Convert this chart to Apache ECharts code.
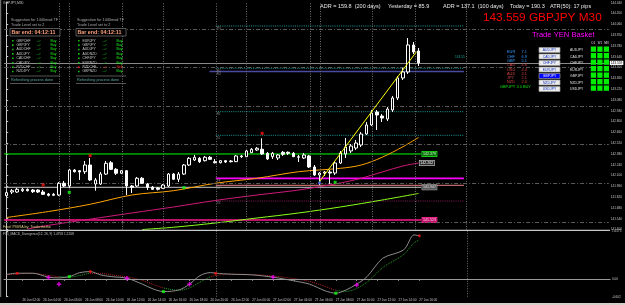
<!DOCTYPE html>
<html><head><meta charset="utf-8">
<script src="https://cdn.jsdelivr.net/npm/echarts@6/dist/echarts.min.js"></script>
<style>html,body{margin:0;padding:0;background:#000;overflow:hidden}#c{width:625px;height:305px}</style>
</head><body><div id="c"></div>
<script>
// ---------------- data ----------------
const barCount = 116;
// [open, close, low, high] per M30 bar
const candles = [
[141.838,141.877,141.821,141.890],[141.886,141.903,141.860,141.925],[141.886,141.921,141.873,141.938],
[141.903,141.921,141.886,141.938],[141.921,141.903,141.893,141.932],[141.912,141.890,141.873,141.925],
[141.912,141.886,141.873,141.921],[141.886,141.856,141.847,141.912],[141.860,141.843,141.828,141.873],
[141.843,141.856,141.834,141.873],[141.847,141.999,141.834,142.016],[141.999,141.964,141.951,142.029],
[141.964,142.171,141.938,142.184],[142.171,142.149,142.139,142.184],[142.162,142.145,142.042,142.171],
[142.149,142.236,142.119,142.288],[142.236,142.042,142.029,142.327],[141.990,142.042,141.903,142.068],
[141.990,142.119,141.977,142.145],[142.119,142.258,142.107,142.288],[142.266,142.180,142.171,142.288],
[142.180,142.129,142.107,142.197],[142.129,142.162,142.119,142.171],[142.162,141.964,141.847,142.171],
[141.964,141.947,141.873,141.977],[141.964,142.064,141.951,142.081],[142.064,141.999,141.990,142.081],
[141.990,141.947,141.912,142.003],[141.947,141.921,141.912,141.964],[141.938,141.921,141.906,141.951],
[141.934,141.977,141.925,141.990],[141.964,142.119,141.951,142.132],[142.119,142.051,142.042,142.132],
[142.051,142.119,142.016,142.145],[142.119,142.236,142.107,142.249],[142.236,142.323,142.223,142.340],
[142.301,142.336,142.288,142.366],[142.323,142.279,142.262,142.340],[142.292,142.336,142.282,142.353],
[142.336,142.310,142.301,142.353],[142.279,142.266,142.256,142.314],[142.266,142.292,142.256,142.301],
[142.292,142.275,142.262,142.301],[142.288,142.279,142.269,142.301],[142.279,142.353,142.275,142.366],
[142.344,142.353,142.327,142.366],[142.344,142.418,142.340,142.431],[142.396,142.440,142.392,142.456],
[142.431,142.453,142.418,142.469],[142.440,142.379,142.366,142.582],[142.388,142.314,142.301,142.405],
[142.344,142.388,142.314,142.405],[142.327,142.366,142.301,142.379],[142.401,142.375,142.353,142.418],
[142.401,142.388,142.366,142.411],[142.388,142.344,142.340,142.405],[142.336,142.344,142.275,142.366],
[142.327,142.366,142.314,142.392],[142.353,142.210,142.197,142.366],[142.210,142.107,142.094,142.236],
[142.107,142.132,141.977,142.145],[142.132,142.145,142.094,142.158],[142.145,142.132,141.990,142.171],
[142.132,142.262,142.107,142.275],[142.262,142.392,142.249,142.418],[142.379,142.469,142.327,142.586],
[142.418,142.482,142.392,142.508],[142.456,142.521,142.431,142.560],[142.495,142.638,142.469,142.664],
[142.638,142.755,142.625,142.794],[142.755,142.910,142.742,142.949],[142.923,142.884,142.690,142.949],
[142.871,142.845,142.794,142.897],[142.832,142.962,142.806,142.988],[142.949,143.105,142.923,143.131],
[143.105,143.364,143.079,143.390],[143.364,143.442,143.338,143.494],[143.442,143.792,143.416,143.882],
[143.792,143.701,143.675,143.831],[143.714,143.559,143.519,143.753]
];
const bidPrice = 143.559;

// moving averages sampled at bar indices
const maOrangeBars = [0,8,16,24,32,40,48,56,64,68,72,76,79];
const maOrangeVals = [141.556,141.633,141.727,141.847,141.903,141.999,142.064,142.149,142.193,142.236,142.336,142.473,142.593];
const maPinkBars = [4,8,16,24,32,40,48,56,64,68,72,76,79];
const maPinkVals = [141.407,141.454,141.534,141.614,141.692,141.776,141.847,141.912,142.003,142.064,142.145,142.223,142.262];
const maLimeBars = [26,32,40,48,56,64,72,79];
const maLimeVals = [141.400,141.429,141.484,141.549,141.614,141.692,141.782,141.867];

// horizontal levels
const greenLevel = 142.379, grayLevel = 141.947, pinkLevel = 141.523;
const pivotLevels = [144.038, 143.490, 142.927, 142.621];
const pivotNames = ['R3', 'R2', 'R1', 'M'];
const blueLevel = 143.448, magentaLevel = 142.064, salmonLevel = 141.973, darkMagentaLevel = 141.769;
const gridPrices = [141.5, 142.0, 142.5, 143.0, 143.5, 144.0];
const vGridBars = [10.1, 12.0, 22.1, 30.1, 46.0, 58.3, 60.1, 70.2, 78.3];
const vFullBars = [40.2, 88.1];

// trend line and arrows
const trendBars = [59.8, 78.6];
const trendPrices = [142.003, 143.705];
const redMarkBars = [7, 16, 49], redMarkPrices = [141.977, 142.357, 142.647];
const greenMarkBars = [12, 34, 63], greenMarkPrices = [141.882, 141.942, 142.012];
const blueMarkBars = [60], blueMarkPrices = [142.007];

// oscillator sub-window
const oscBars = [0,2,5,8,10,12,14,16,18,20,23,26,28,30,33,35,37,39,40,43,47,51,55,58,61,63,65,67,69,72,76,78,79];
const oscMain = [0.165,0.206,0.206,0.069,0.045,0.089,0.227,0.261,0.148,0.089,0.034,-0.172,-0.334,-0.427,-0.368,-0.172,0.124,0.227,0.206,0.172,0.148,0.069,-0.058,-0.172,-0.402,-0.482,-0.368,-0.172,0.089,0.722,1.008,1.524,1.49];
const oscSignal = [0.15,0.18,0.2,0.13,0.09,0.07,0.13,0.2,0.2,0.15,0.08,-0.04,-0.18,-0.3,-0.38,-0.3,-0.1,0.08,0.13,0.17,0.16,0.11,0.02,-0.08,-0.25,-0.38,-0.42,-0.32,-0.1,0.4,0.85,1.25,1.35];
const oscRedBars = [2,16,40,79], oscRedVals = [0.206,0.261,0.206,1.49];
const oscGreenBars = [12,30,63], oscGreenVals = [0.089,-0.427,-0.482];
const oscCrossBars = [8,10,23,35,51,67], oscCrossVals = [0.055,-0.172,0.034,-0.172,0.069,-0.196];

// time axis ticks
const timeTickBars = [0,3,7,11,15,19,23,27,31,35,39,43,47,51,55,59,63,67,71,75,79];
const timeTickLabels = ['26 Jun 2017','26 Jun 02:00','26 Jun 04:00','26 Jun 06:00','26 Jun 08:00','26 Jun 10:00',
 '26 Jun 12:00','26 Jun 14:00','26 Jun 16:00','26 Jun 18:00','26 Jun 20:00','26 Jun 22:00','27 Jun 00:00',
 '27 Jun 02:00','27 Jun 04:00','27 Jun 06:00','27 Jun 08:00','27 Jun 10:00','27 Jun 12:00','27 Jun 14:00','27 Jun 16:00'];
const subTicks = [-0.602, 0, 1.6575];
const subTickLabels = ['-0.602', '0.00', '1.6575'];

// panels
const panelAPairs = ['GBPCHF','GBPJPY','AUDCHF','AUDJPY','CADCHF','CADJPY','NZDCHF','NZDJPY'];
const panelASignals = ['Buy','Buy','Buy','Buy','Buy','Buy','Buy','Buy'];
const panelBPairs = ['EURJPY','GBPJPY','AUDJPY','AUDNZD','CHFJPY','EURNZD','NZDCHF','GBPNZD'];
const panelBSignals = ['Buy','Buy','Buy','Buy','Buy','Buy','Sell','Buy'];
const strengthCcy = ['EUR','CHF','GBP','CAD','USD','AUD','JPY','NZD'];
const strengthVal = ['7.1','6.9','5.1','4.6','4.4','3.1','2.1','2.0'];
const basketPairs = ['AUDJPY','CADJPY','CHFJPY','EURJPY','GBPJPY','NZDJPY','USDJPY'];
const tfNames = ['D1','W1','MN'];

// ---------------- chart ----------------
const FONT = '"Liberation Sans", Arial, sans-serif';
const cats = candles.map((_, i) => String(i)).concat(Array.from({length: barCount - candles.length}, (_, i) => String(candles.length + i)));
const zip = (a, b) => a.map((v, i) => [v, b[i]]);
const GL = 4.1, GW = 605.9;
const MAIN_LAST = candles.length - 0.5;

function level(price, x0, x1, ls, extra) {
  return Object.assign({ type: 'line', xAxisIndex: 1, yAxisIndex: 0, symbol: 'none', silent: true,
    data: [[x0, price], [x1, price]], lineStyle: ls, z: 3 }, extra || {});
}
function boxLabel(bg, fg, border) {
  return { endLabel: { show: true, formatter: p => p.value[1].toFixed(3), fontSize: 3.6, fontFamily: FONT,
    color: fg, backgroundColor: bg, borderColor: border || bg, borderWidth: 0.6, padding: [0.6, 0.8, 0.2, 0.8], distance: 1 } };
}

const series = [];
series.push({
  type: 'candlestick', xAxisIndex: 0, yAxisIndex: 0, data: candles, barWidth: 3, z: 5,
  itemStyle: { color: '#000000', color0: '#ffffff', borderColor: '#ffffff', borderColor0: '#ffffff', borderWidth: 1 },
  markLine: { silent: true, symbol: ['none', 'none'], animation: false,
    data: gridPrices.map(p => ({ yAxis: p, lineStyle: { color: '#5a5a5a', width: 1, type: [4, 2, 1, 2] }, label: { show: false } }))
      .concat([{ yAxis: bidPrice, lineStyle: { color: '#8a8a8a', width: 1, type: 'solid' },
        label: { show: true, position: 'end', formatter: bidPrice.toFixed(3), fontSize: 3.2, fontFamily: FONT, color: '#000',
          backgroundColor: '#ffffff', padding: [0.8, 1, 0.4, 1], distance: 1 } }]) }
});
// vertical grid / separators
series.push({ type: 'line', xAxisIndex: 1, yAxisIndex: 0, data: [], silent: true,
  markLine: { silent: true, symbol: ['none', 'none'], animation: false, label: { show: false },
    data: vGridBars.concat(vFullBars).map(b => ({ xAxis: b, lineStyle: { color: '#6e6e6e', width: 1, type: [1, 1.5] } })) } });
series.push({ type: 'line', xAxisIndex: 3, yAxisIndex: 1, data: [], silent: true,
  markLine: { silent: true, symbol: ['none', 'none'], animation: false, label: { show: false },
    data: vFullBars.map(b => ({ xAxis: b, lineStyle: { color: '#6e6e6e', width: 1, type: [1, 1.5] } }))
      .concat([{ yAxis: 0, lineStyle: { color: '#9a9a9a', width: 1.2, type: 'solid' } }]) } });

// levels
series.push(level(greenLevel, -0.5, 79.5, { color: '#00ff00', width: 1 }, boxLabel('#0b6e0b', '#c8ffc8', '#20ff20')));
series.push(level(grayLevel, -0.5, 79.5, { color: '#c8c8c8', width: 1 }, boxLabel('#5a5a5a', '#e0e0e0', '#9a9a9a')));
series.push(level(pinkLevel, -0.5, 79.5, { color: '#ff1a8c', width: 1.3 }, boxLabel('#c2106a', '#ffd0e8', '#ff3399')));
pivotLevels.forEach(p => series.push(level(p, 40.1, 87.7, { color: '#1a9a9a', width: 1, type: [1, 1.2] })));
series.push(level(blueLevel, 38.9, 87.7, { color: '#4a4aa0', width: 1.4 }));
series.push(level(magentaLevel, 40.1, 87.7, { color: '#ff00ff', width: 1.8 }));
series.push(level(salmonLevel, 40.1, 87.7, { color: '#f08080', width: 1 }));
series.push(level(darkMagentaLevel, 40.1, 87.7, { color: '#8b1a5a', width: 1, type: [1, 1.2] }));
// level names
series.push({ type: 'scatter', xAxisIndex: 1, yAxisIndex: 0, silent: true, symbolSize: 1, z: 6,
  itemStyle: { color: 'rgba(0,0,0,0)' },
  data: pivotLevels.concat([blueLevel, magentaLevel, salmonLevel, darkMagentaLevel]).map(p => [40.3, p]),
  label: { show: true, position: 'bottom', distance: 0.5, align: 'left', fontSize: 3, fontFamily: FONT, color: '#9a9a9a',
    formatter: p => ['R3','R2','R1','S1','R4','PP','S2','S3'][p.dataIndex] } });

// moving averages
series.push({ type: 'line', xAxisIndex: 1, yAxisIndex: 0, symbol: 'none', smooth: 0.35, silent: true, z: 4,
  data: zip(maOrangeBars, maOrangeVals), lineStyle: { color: '#ffa500', width: 1 } });
series.push(Object.assign({ type: 'line', xAxisIndex: 1, yAxisIndex: 0, symbol: 'none', smooth: 0.35, silent: true, z: 4,
  data: zip(maPinkBars, maPinkVals), lineStyle: { color: '#d0187a', width: 1 } }, boxLabel('#2a2a2a', '#ffffff', '#d0d0d0')));
series.push({ type: 'line', xAxisIndex: 1, yAxisIndex: 0, symbol: 'none', smooth: 0.35, silent: true, z: 4,
  data: zip(maLimeBars, maLimeVals), lineStyle: { color: '#8cff1a', width: 1 } });
// trend line
series.push({ type: 'line', xAxisIndex: 1, yAxisIndex: 0, symbol: 'none', silent: true, z: 7,
  data: zip(trendBars, trendPrices), lineStyle: { color: '#ffff00', width: 1 } });
// markers
series.push({ type: 'scatter', xAxisIndex: 1, yAxisIndex: 0, symbol: 'rect', symbolSize: 3, silent: true, z: 8,
  itemStyle: { color: '#ff1010' }, data: zip(redMarkBars, redMarkPrices) });
series.push({ type: 'scatter', xAxisIndex: 1, yAxisIndex: 0, symbol: 'rect', symbolSize: 3, silent: true, z: 8,
  itemStyle: { color: '#10ff10' }, data: zip(greenMarkBars, greenMarkPrices) });
series.push({ type: 'scatter', xAxisIndex: 1, yAxisIndex: 0, symbol: 'circle', symbolSize: 3, silent: true, z: 8,
  itemStyle: { color: '#3050ff' }, data: zip(blueMarkBars, blueMarkPrices) });

// oscillator
series.push({ type: 'line', xAxisIndex: 3, yAxisIndex: 1, symbol: 'none', smooth: 0.3, silent: true, z: 4,
  data: zip(oscBars, oscMain), lineStyle: { color: '#8c8c8c', width: 1 } });
const sigIdx = series.length;
series.push({ type: 'line', xAxisIndex: 3, yAxisIndex: 1, symbol: 'none', smooth: 0.3, silent: true, z: 3,
  data: zip(oscBars, oscSignal), lineStyle: { width: 1, type: [1, 1] } });
series.push({ type: 'scatter', xAxisIndex: 3, yAxisIndex: 1, symbol: 'circle', symbolSize: 3, silent: true, z: 8,
  itemStyle: { color: '#ff1010' }, data: zip(oscRedBars, oscRedVals) });
series.push({ type: 'scatter', xAxisIndex: 3, yAxisIndex: 1, symbol: 'rect', symbolSize: 3, silent: true, z: 8,
  itemStyle: { color: '#10ff10' }, data: zip(oscGreenBars, oscGreenVals) });
series.push({ type: 'scatter', xAxisIndex: 3, yAxisIndex: 1, symbol: 'path://M2,0h2v2h2v2h-2v2h-2v-2h-2v-2h2z', symbolSize: 4.5, silent: true, z: 8,
  itemStyle: { color: '#ff00ff' }, data: zip(oscCrossBars, oscCrossVals) });

// ---------------- graphic texts ----------------
const G = [];
function txt(x, y, text, fill, size, bold, align) {
  G.push({ type: 'text', x: x, y: y, z: 100, silent: true,
    style: { text: text, fill: fill, fontSize: size, fontFamily: FONT, fontWeight: bold ? 'bold' : 'normal', align: align || 'left', verticalAlign: 'middle' } });
}
function rect(x, y, w, h, fill, stroke) {
  G.push({ type: 'rect', z: 99, silent: true, shape: { x: x, y: y, width: w, height: h }, style: { fill: fill || 'none', stroke: stroke || null, lineWidth: 0.7 } });
}
function hline(x1, x2, y, stroke, w) {
  G.push({ type: 'line', z: 99, silent: true, shape: { x1: x1, y1: y, x2: x2, y2: y }, style: { stroke: stroke, lineWidth: w || 1 } });
}
// frame
G.push({ type: 'line', z: 99, silent: true, shape: { x1: 0.7, y1: 0, x2: 0.7, y2: 297 }, style: { stroke: '#8a8a8a', lineWidth: 1 } });
hline(0, 610, 230.3, '#c8c8c8', 1.3);
rect(0, 303, 625, 2, '#d4d0c8');
txt(3, 3.5, 'GBPJPY,M30', '#c0c0c0', 3.4);
txt(3, 226.5, 'Fred: PIGRA by: Tradertheme', '#e0d080', 3.6);
txt(3, 234.3, 'FX5_MACD_Divergence(12, 26, 9) 1.4758 1.2268', '#c0c0c0', 3.2);

// signal panels
function panel(x0, pairs, signals) {
  txt(x0 + 1, 19.5, 'Suggestion for 1440mod TF', '#a8a8a8', 3.8);
  txt(x0 + 1, 25, 'Trade Level set to 2', '#a8a8a8', 3.8);
  rect(x0, 28.5, 50, 7.5, '#000000', '#7a7a7a');
  txt(x0 + 1.5, 32.4, 'Bar end: 04:12:11', '#ffa07a', 5.3, true);
  pairs.forEach((p, k) => {
    const y = 40.7 + k * 4.4;
    const sell = signals[k] === 'Sell';
    rect(x0 + 2, y - 0.8, 1.6, 1.6, sell ? '#d01010' : '#10c010');
    txt(x0 + 6.5, y, p, '#c8c8c8', 3.4);
    txt(x0 + 26.5, y, '-->', sell ? '#d01010' : '#10b010', 3.4);
    txt(x0 + 40.5, y, signals[k], sell ? '#ff2020' : '#20ff20', 3.4);
  });
  hline(x0, x0 + 50, 76, '#7a7a7a', 0.7);
  txt(x0 + 1, 80.3, 'Refreshing process done', '#5fa8a8', 3.8);
  hline(x0, x0 + 50, 83.5, '#7a7a7a', 0.7);
}
panel(10, panelAPairs, panelASignals);
panel(76, panelBPairs, panelBSignals);

// header info
txt(320, 6.7, 'ADR = 159.8  (200 days)', '#e8e8e8', 5.5);
txt(388, 6.7, 'Yesterday = 85.9', '#e8e8e8', 5.5);
txt(443, 6.7, 'ADR = 137.1  (100 days)', '#e8e8e8', 5.5);
txt(510, 6.7, 'Today = 190.3', '#e8e8e8', 5.5);
txt(550, 6.7, 'ATR(50): 17 pips', '#e8e8e8', 5.5);
txt(483, 17.5, '143.559 GBPJPY M30', '#ff0000', 11.8);
txt(532, 35.3, 'Trade YEN Basket', '#ff00ff', 7.6);
txt(455, 57.5, '143.55', '#1aa0a0', 3.2);

// currency strength
strengthCcy.forEach((c, k) => {
  const y = 52.3 + k * 4.3;
  const col = k < 3 ? '#3399ff' : '#d04040';
  txt(507, y, c, col, 3.9);
  txt(521.5, y, strengthVal[k], col, 3.9);
});
txt(500, 87, 'GBPJPY 3.0 BUY', '#10e010', 3.9);

// basket buttons
basketPairs.forEach((p, k) => {
  const y = 47.5 + k * 6.5;
  const sel = p === 'GBPJPY';
  rect(539, y, 21, 5, sel ? '#0000ff' : '#ececec', '#9a9a9a');
  txt(549.5, y + 2.6, p, sel ? '#ffffff' : '#1030c0', 3.4, false, 'center');
  txt(570, y + 2.6, p, '#e0e0e0', 3.4);
  for (let c = 0; c < 3; c++) rect(590.8 + c * 6.5, y - 1, 5.2, 5.3, '#00ee00');
});
tfNames.forEach((t, c) => txt(593.4 + c * 6.5, 43.3, t, '#e0e0e0', 2.8, false, 'center'));

// ---------------- option ----------------
const tickSet = new Set(timeTickBars);
const option = {
  backgroundColor: '#000000',
  animation: false,
  grid: [{ left: GL, top: 2.7, width: GW, height: 226.8 }, { left: GL, top: 231, width: GW, height: 65.7 }],
  visualMap: [{ show: false, type: 'piecewise', seriesIndex: sigIdx, dimension: 0,
    pieces: [{ lt: 10, color: '#b02020' }, { gte: 10, lt: 16, color: '#20a020' }, { gte: 16, lt: 30, color: '#b02020' },
      { gte: 30, lt: 39, color: '#20a020' }, { gte: 39, lt: 63, color: '#b02020' }, { gte: 63, color: '#20a020' }] }],
  xAxis: [
    { type: 'category', gridIndex: 0, data: cats, boundaryGap: true, axisLine: { show: false }, axisTick: { show: false }, axisLabel: { show: false }, splitLine: { show: false } },
    { type: 'value', gridIndex: 0, min: -0.5, max: barCount - 0.5, show: false },
    { type: 'category', gridIndex: 1, data: cats, boundaryGap: true,
      axisLine: { show: true, lineStyle: { color: '#c8c8c8', width: 1 } },
      axisTick: { show: true, alignWithLabel: true, length: 1.5, interval: i => tickSet.has(i), lineStyle: { color: '#c8c8c8' } },
      axisLabel: { show: true, interval: i => tickSet.has(i), align: 'left', margin: 1.8, fontSize: 3.1, fontFamily: FONT, color: '#c8c8c8',
        formatter: (v, i) => { const k = timeTickBars.indexOf(i); return k >= 0 ? timeTickLabels[k] : ''; } },
      splitLine: { show: false } },
    { type: 'value', gridIndex: 1, min: -0.5, max: barCount - 0.5, show: false }
  ],
  yAxis: [
    { type: 'value', gridIndex: 0, position: 'right', min: 141.40, max: 144.34, interval: 0.14,
      axisLine: { show: true, lineStyle: { color: '#c8c8c8' } }, axisTick: { show: true, length: 1.5, lineStyle: { color: '#c8c8c8' } },
      axisLabel: { fontSize: 3.1, fontFamily: FONT, color: '#c8c8c8', margin: 2, formatter: v => v.toFixed(3) }, splitLine: { show: false } },
    { type: 'value', gridIndex: 1, position: 'right', min: -0.602, max: 1.6575,
      axisLine: { show: true, lineStyle: { color: '#c8c8c8' } },
      axisTick: { show: true, length: 1.5, customValues: subTicks, lineStyle: { color: '#c8c8c8' } },
      axisLabel: { customValues: subTicks, fontSize: 3.1, fontFamily: FONT, color: '#c8c8c8', margin: 2,
        formatter: v => { const k = subTicks.findIndex(t => Math.abs(t - v) < 1e-6); return k >= 0 ? subTickLabels[k] : ''; } },
      splitLine: { show: false } }
  ],
  series: series,
  graphic: { elements: G }
};
const chart = echarts.init(document.getElementById('c'), null, { renderer: 'canvas', width: 625, height: 305 });
chart.setOption(option);
</script></body></html>
